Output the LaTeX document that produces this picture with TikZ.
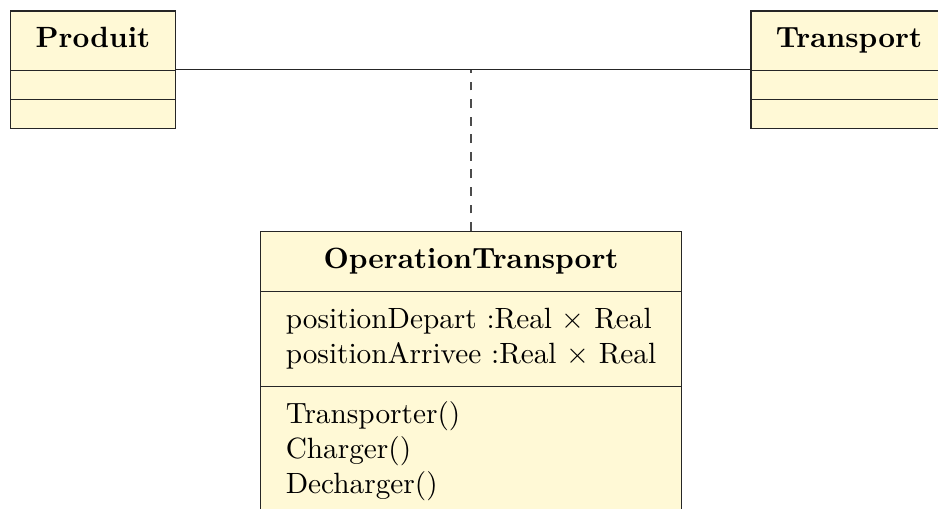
\documentclass[tikz,border=0pt]{standalone}
\usetikzlibrary{shapes.multipart}
\definecolor{classfill}{RGB}{255,249,214}

\begin{document}
\begin{tikzpicture}[
    umlclass/.style={draw=black!85, fill=classfill, rectangle split, rectangle split parts=3,
        rectangle split part align={center,left,left}, align=left,
        inner xsep=8.5pt, inner ysep=4pt},
    assoc/.style={draw=black!85},
    assocclass/.style={draw=black!70, dashed}
]
\useasboundingbox (0,0) rectangle (11.256,-6.108);

% Classes
\node[umlclass] (Produit) at (1.116,-0.838)
    {\textbf{Produit}\strut \nodepart{two}\rule{0pt}{1.5pt} \nodepart{three}\rule{0pt}{1.5pt}};
\node[umlclass] (Transport) at (10.188,-0.838)
    {\textbf{Transport}\strut \nodepart{two}\rule{0pt}{1.5pt} \nodepart{three}\rule{0pt}{1.5pt}};
\node[umlclass, anchor=north] (OperationTransport) at (5.652,-2.772)
    {\textbf{OperationTransport}\strut
     \nodepart{two}\strut positionDepart :Real $\times$ Real\\
                   positionArrivee :Real $\times$ Real\strut
     \nodepart{three}\strut Transporter()\\
                     Charger()\\
                     Decharger()\strut};

% Association and association class
\draw[assoc] (Produit) -- (Transport);
\draw[assocclass] (OperationTransport.north) -- (OperationTransport.north |- Produit.east);

\end{tikzpicture}
\end{document}
